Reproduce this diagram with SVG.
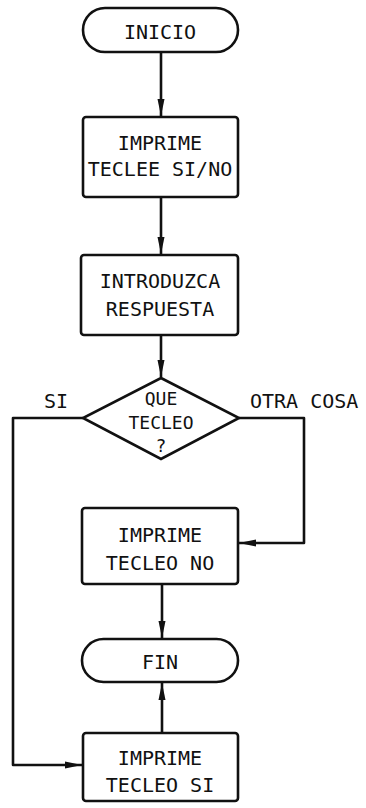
<svg xmlns="http://www.w3.org/2000/svg" width="366" height="808" viewBox="0 0 366 808">
<style>
.s{fill:#fff;stroke:#111;stroke-width:2.6}
.t{font-family:"DejaVu Sans Mono","Liberation Mono",monospace;font-size:20px;fill:#111;text-anchor:middle}
.d{font-size:18px}
.l{font-family:"DejaVu Sans Mono","Liberation Mono",monospace;font-size:20px;fill:#111}
.c{fill:none;stroke:#111;stroke-width:2.6;stroke-linejoin:round}
</style>
<defs>
<marker id="a" markerUnits="userSpaceOnUse" markerWidth="18" markerHeight="10" refX="17" refY="5" orient="auto">
<path d="M0,1.5 L17,5 L0,8.5 z" fill="#111"/>
</marker>
</defs>
<rect width="366" height="808" fill="#fff"/>
<g id="connectors">
<path class="c" d="M161,52 V116" marker-end="url(#a)"/>
<path class="c" d="M161,197 V254" marker-end="url(#a)"/>
<path class="c" d="M161,335 V377" marker-end="url(#a)"/>
<path class="c" d="M83,418 H13 V765 H82" marker-end="url(#a)"/>
<path class="c" d="M239,418 H304 V543 H239" marker-end="url(#a)"/>
<path class="c" d="M162,584 V638" marker-end="url(#a)"/>
<path class="c" d="M162,733 V683" marker-end="url(#a)"/>
</g>
<g id="inicio">
<rect class="s" x="83" y="8" width="155" height="44" rx="22"/>
<text class="t" x="160" y="39">INICIO</text>
</g>
<g id="imprime1">
<rect class="s" x="83" y="117" width="155" height="80" rx="3"/>
<text class="t" x="160" y="150">IMPRIME</text>
<text class="t" x="160" y="176">TECLEE SI/NO</text>
</g>
<g id="introduzca">
<rect class="s" x="81" y="255" width="157" height="80" rx="3"/>
<text class="t" x="160" y="288">INTRODUZCA</text>
<text class="t" x="160" y="316">RESPUESTA</text>
</g>
<g id="decision">
<path class="s" d="M161,378 L239,418 L161,459 L83,418 Z"/>
<text class="t d" x="161" y="405">QUE</text>
<text class="t d" x="161" y="429">TECLEO</text>
<text class="t d" x="161" y="452">?</text>
</g>
<text class="l" x="44" y="408">SI</text>
<text class="l" x="250" y="408">OTRA COSA</text>
<g id="imprime_no">
<rect class="s" x="82" y="508" width="156" height="76" rx="3"/>
<text class="t" x="160" y="542">IMPRIME</text>
<text class="t" x="160" y="570">TECLEO NO</text>
</g>
<g id="fin">
<rect class="s" x="82" y="639" width="156" height="43" rx="21.5"/>
<text class="t" x="160" y="669">FIN</text>
</g>
<g id="imprime_si">
<rect class="s" x="83" y="733" width="155" height="68" rx="3"/>
<text class="t" x="160" y="765">IMPRIME</text>
<text class="t" x="160" y="792">TECLEO SI</text>
</g>
</svg>
